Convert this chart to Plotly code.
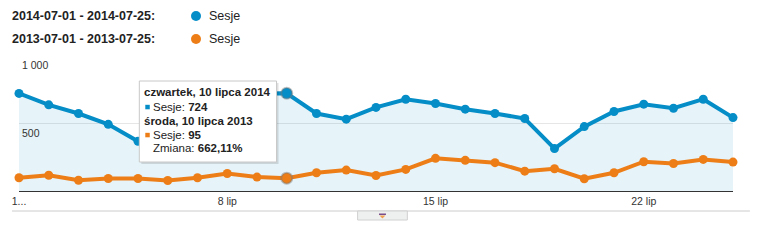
import plotly.graph_objects as go

# ---- data ----
days = list(range(1, 26))
sessions_2014 = [723, 638, 574, 494, 368, 420, 640, 700, 722, 724, 574, 532, 619,
                 680, 648, 606, 574, 537, 314, 477, 589, 643, 613, 680, 544]
sessions_2013 = [98, 117, 80, 93, 93, 78, 98, 130, 103, 95, 135, 155, 115,
                 160, 242, 227, 210, 147, 165, 91, 135, 217, 204, 234, 214]
tick_vals = [1, 8, 15, 22]
tick_text = ["1...", "8 lip", "15 lip", "22 lip"]
y_ticks = [1000, 500]
y_tick_text = ["1 000", "500"]
legend_ranges = ["2014-07-01 - 2014-07-25:", "2013-07-01 - 2013-07-25:"]
legend_metric = "Sesje"
hover_day = 10
hover_dates = ["czwartek, 10 lipca 2014", "środa, 10 lipca 2013"]
change_text = "662,11%"

BLUE = "#058DC7"
ORANGE = "#ED7E17"
FONT = "Liberation Sans, Arial, sans-serif"

W, H = 758, 240
L, R, T, B = 15, 733, 56, 191  # plot area in px


def px(x):
    return (x - L) / (R - L)


def py(y):
    return (B - y) / (B - T)


fig = go.Figure()

fig.add_trace(go.Scatter(
    x=days, y=sessions_2014, mode="lines+markers", fill="tozeroy",
    fillcolor="rgba(5,141,199,0.10)",
    line=dict(color=BLUE, width=4), marker=dict(color=BLUE, size=9),
    cliponaxis=False, hoverinfo="skip"))
fig.add_trace(go.Scatter(
    x=days, y=sessions_2013, mode="lines+markers",
    line=dict(color=ORANGE, width=4), marker=dict(color=ORANGE, size=9),
    cliponaxis=False, hoverinfo="skip"))

# highlighted points (halo)
i = days.index(hover_day)
for vals, col in [(sessions_2014, BLUE), (sessions_2013, ORANGE)]:
    fig.add_trace(go.Scatter(
        x=[hover_day], y=[vals[i]], mode="markers",
        marker=dict(color=col, size=11, line=dict(color="rgba(120,120,120,0.45)", width=2)),
        cliponaxis=False, hoverinfo="skip"))

shapes = []
annotations = []

# y tick labels inside plot
for v, t in zip(y_ticks, y_tick_text):
    annotations.append(dict(x=px(16), y=v, xref="paper", yref="y", text=t,
                            xanchor="left", yanchor="top", yshift=-1, showarrow=False,
                            font=dict(family=FONT, size=10.5, color="#333")))

# legend
for row, (rng, col, yc) in enumerate(zip(legend_ranges, [BLUE, ORANGE], [16, 39])):
    annotations.append(dict(x=px(5.5), y=py(yc), xref="paper", yref="paper",
                            text="<b>" + rng + "</b>", xanchor="left", yanchor="middle",
                            showarrow=False, font=dict(family=FONT, size=12.5, color="#222")))
    shapes.append(dict(type="circle", xref="paper", yref="paper",
                       x0=px(188), x1=px(198), y0=py(yc + 5), y1=py(yc - 5),
                       fillcolor=col, line=dict(width=0)))
    annotations.append(dict(x=px(204), y=py(yc), xref="paper", yref="paper",
                            text=legend_metric, xanchor="left", yanchor="middle",
                            showarrow=False, font=dict(family=FONT, size=12.5, color="#222")))

# bottom rule and scroll handle
shapes.append(dict(type="line", xref="paper", yref="paper", x0=px(8), x1=px(750),
                   y0=py(211), y1=py(211), line=dict(color="#cccccc", width=1)))
shapes.append(dict(type="rect", xref="paper", yref="paper", x0=px(355.5), x1=px(405.5),
                   y0=py(211), y1=py(220), fillcolor="#eef0f0",
                   line=dict(color="#d0d0d0", width=1)))
shapes.append(dict(type="rect", xref="paper", yref="paper", x0=px(377), x1=px(384),
                   y0=py(213.5), y1=py(215), fillcolor="#7a4e8a", line=dict(width=0)))
shapes.append(dict(type="path", xref="paper", yref="paper",
                   path=f"M {px(377.5)} {py(215.5)} L {px(383.5)} {py(215.5)} L {px(380.5)} {py(218.5)} Z",
                   fillcolor="#f0a050", line=dict(width=0)))

# tooltip
shapes.append(dict(type="rect", xref="paper", yref="paper", x0=px(138), x1=px(276),
                   y0=py(164), y1=py(83), fillcolor="rgba(0,0,0,0.12)", line=dict(width=0)))
shapes.append(dict(type="rect", xref="paper", yref="paper", x0=px(136), x1=px(274),
                   y0=py(162), y1=py(81), fillcolor="white",
                   line=dict(color="#c8c8c8", width=1)))
tfont = dict(family=FONT, size=11.5, color="#222")
lines = [
    (139, 91.5, "<b>" + hover_dates[0] + "</b>"),
    (147.5, 107, f"Sesje: <b>{sessions_2014[i]}</b>"),
    (139, 120.7, "<b>" + hover_dates[1] + "</b>"),
    (147.5, 135, f"Sesje: <b>{sessions_2013[i]}</b>"),
    (147.5, 148.3, "Zmiana: <b>" + change_text + "</b>"),
]
for x0, yc, txt in lines:
    annotations.append(dict(x=px(x0), y=py(yc), xref="paper", yref="paper", text=txt,
                            xanchor="left", yanchor="middle", showarrow=False, font=tfont))
for yc, col in [(107, BLUE), (135, ORANGE)]:
    shapes.append(dict(type="rect", xref="paper", yref="paper", x0=px(142), x1=px(146.5),
                       y0=py(yc + 2.3), y1=py(yc - 2.2), fillcolor=col, line=dict(width=0)))

fig.update_layout(
    width=W, height=H, margin=dict(l=L, r=W - R, t=T, b=H - B),
    paper_bgcolor="white", plot_bgcolor="white", showlegend=False,
    shapes=shapes, annotations=annotations,
    xaxis=dict(range=[1, 25], tickvals=tick_vals, ticktext=tick_text, showgrid=False,
               zeroline=False, showline=True, linecolor="#333", linewidth=1, ticks="",
               tickfont=dict(family=FONT, size=10.5, color="#333")),
    yaxis=dict(range=[0, 1000], tickvals=y_ticks, showticklabels=False, showgrid=True,
               gridcolor="#e6e6e6", gridwidth=1, zeroline=False),
)

fig.write_html("out.html")
